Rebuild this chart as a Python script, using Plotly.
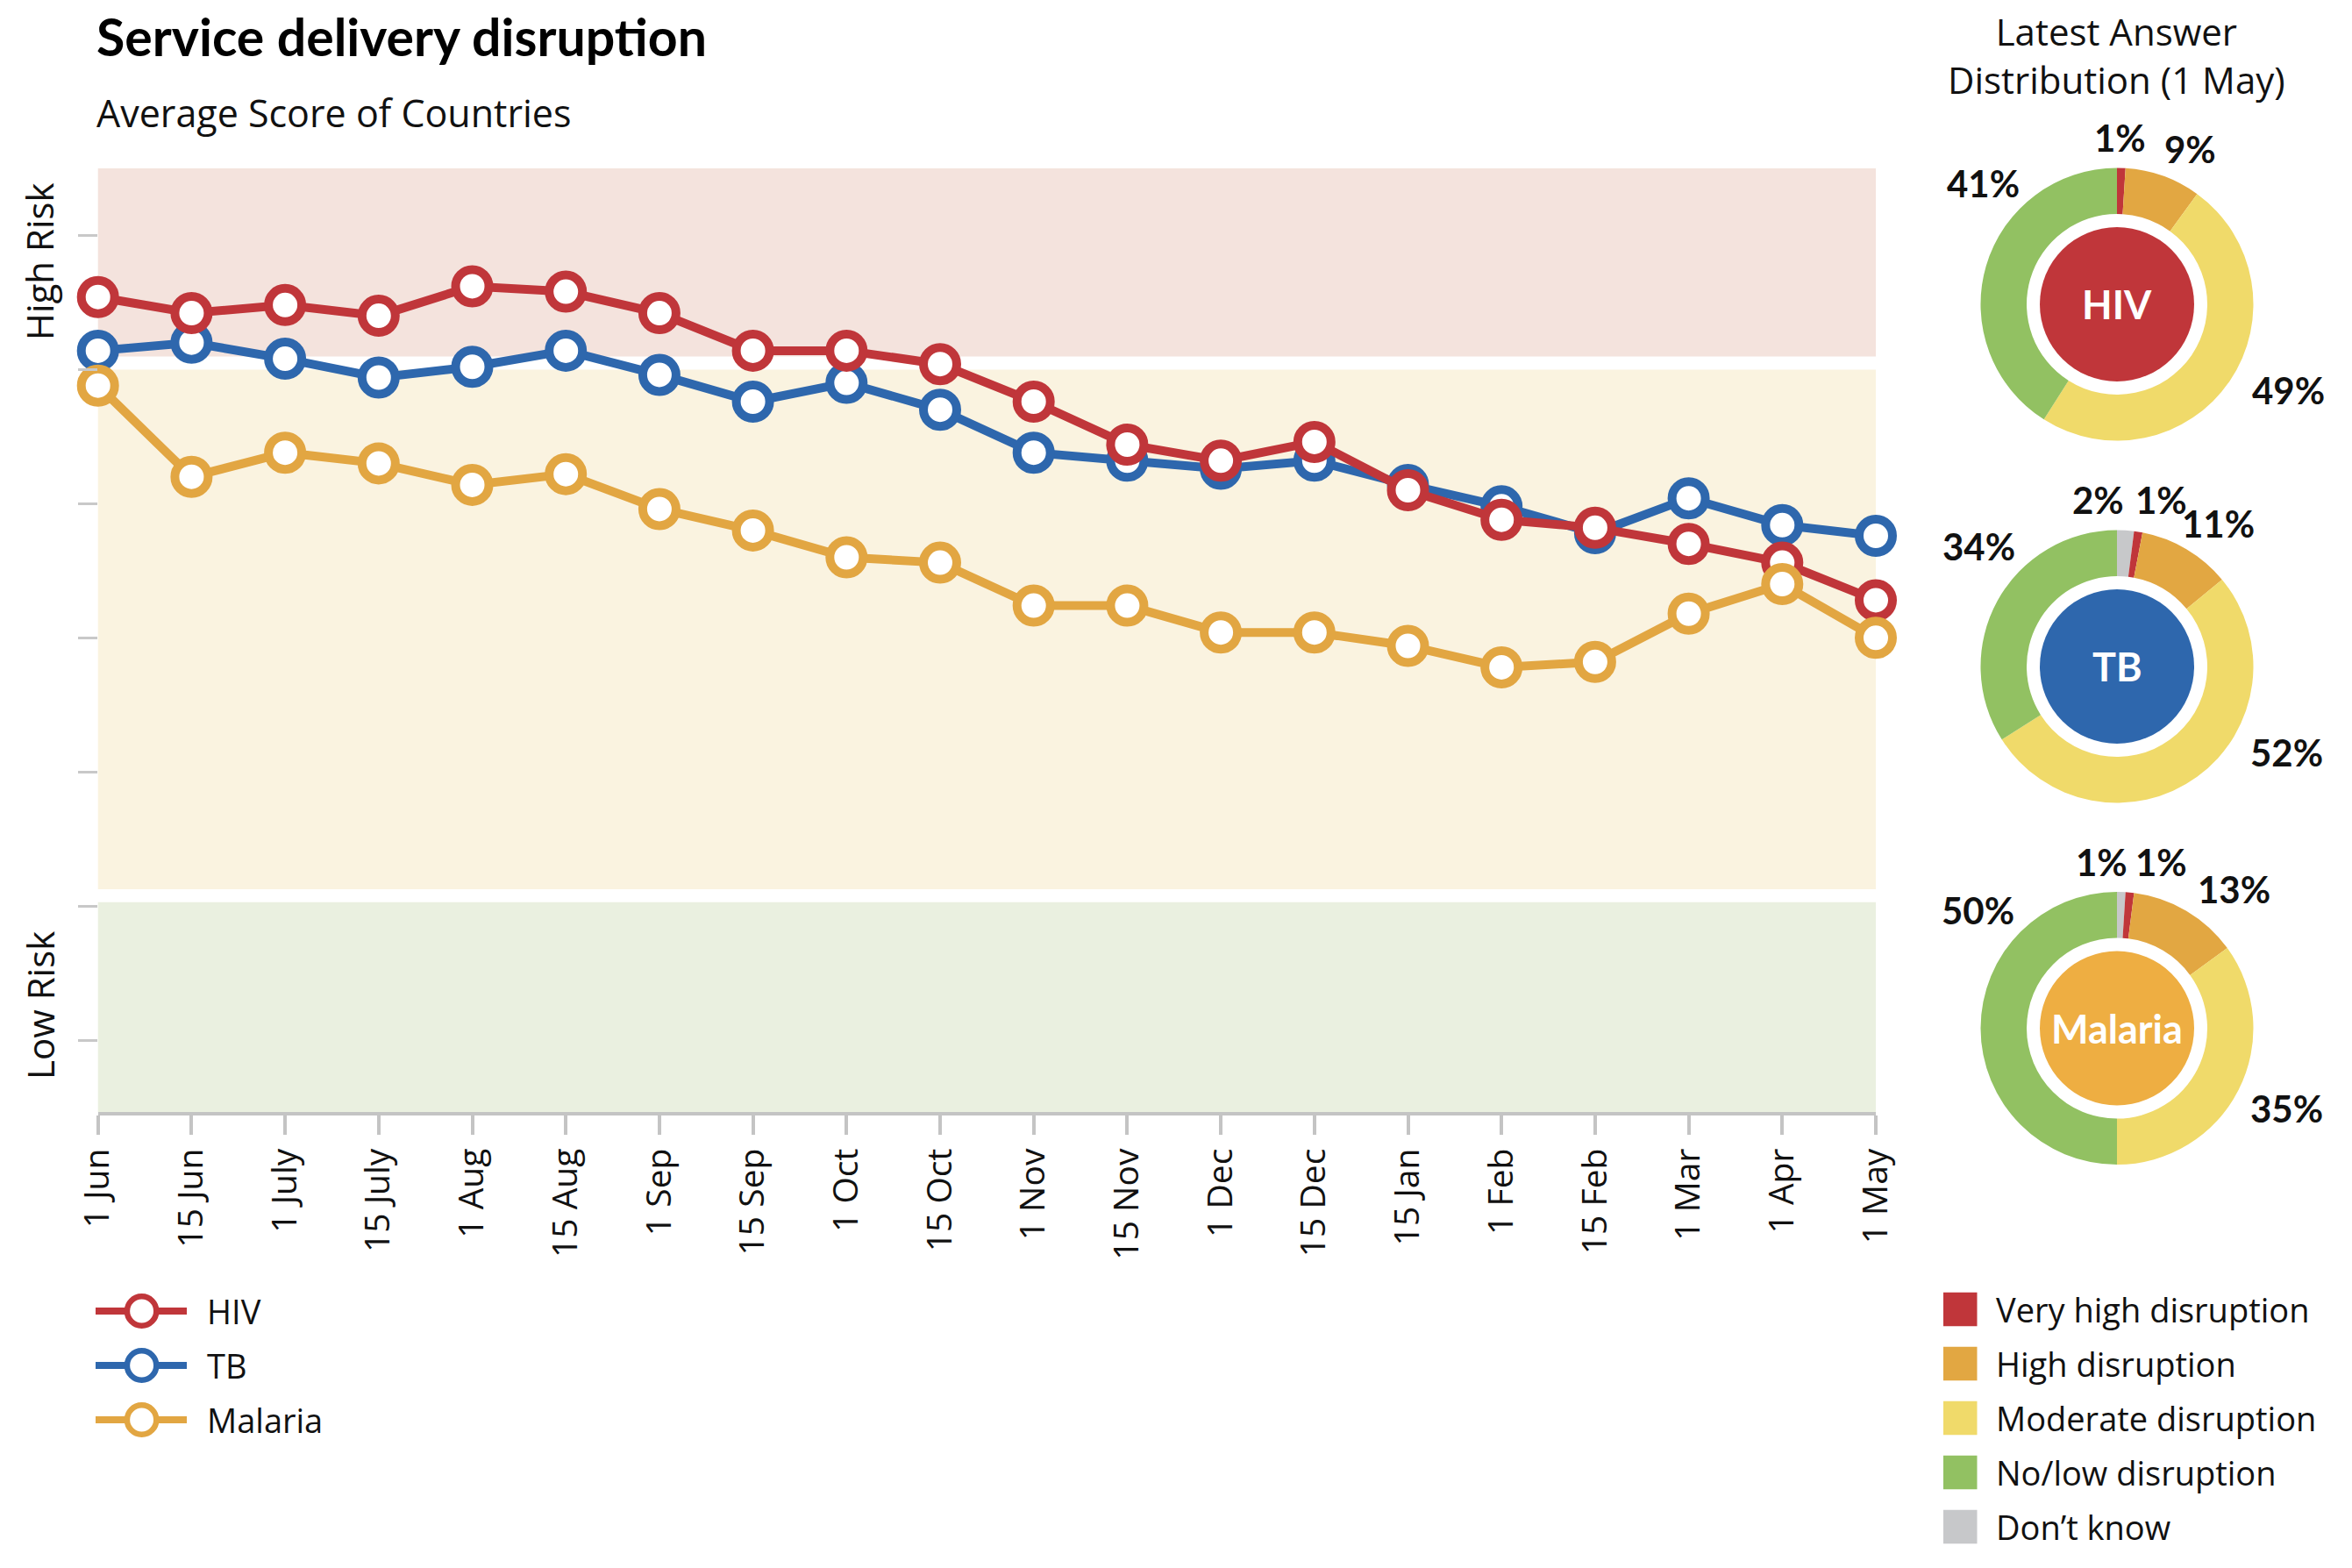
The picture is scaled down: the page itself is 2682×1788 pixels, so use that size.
import plotly.graph_objects as go

W, H = 2682, 1788
FONT = "Open Sans"
BFONT = "Lato"

# ---------------- data ----------------
dates = ["1 Jun", "15 Jun", "1 July", "15 July", "1 Aug", "15 Aug", "1 Sep", "15 Sep",
         "1 Oct", "15 Oct", "1 Nov", "15 Nov", "1 Dec", "15 Dec", "15 Jan", "1 Feb",
         "15 Feb", "1 Mar", "1 Apr", "1 May"]
hiv = [3.77, 3.71, 3.74, 3.70, 3.81, 3.79, 3.71, 3.57, 3.57, 3.52,
       3.38, 3.22, 3.16, 3.23, 3.05, 2.94, 2.91, 2.85, 2.78, 2.64]
tb = [3.57, 3.60, 3.54, 3.47, 3.51, 3.57, 3.48, 3.38, 3.45, 3.35,
      3.19, 3.16, 3.13, 3.16, 3.07, 2.99, 2.89, 3.02, 2.92, 2.88]
malaria = [3.44, 3.10, 3.19, 3.15, 3.07, 3.11, 2.98, 2.90, 2.80, 2.78,
           2.62, 2.62, 2.52, 2.52, 2.47, 2.39, 2.41, 2.59, 2.70, 2.50]

series_names = ["HIV", "TB", "Malaria"]
series_colors = ["#c0363a", "#2e67ad", "#e2a642"]
center_colors = ["#c0363a", "#2e67ad", "#eeae42"]

dist_categories = ["Very high disruption", "High disruption", "Moderate disruption",
                   "No/low disruption", "Don\u2019t know"]
dist_colors = ["#c0363a", "#e2a742", "#f0da6a", "#92c162", "#c7c8ca"]
hiv_dist = [1, 9, 49, 41, 0]
tb_dist = [1, 11, 52, 34, 2]
malaria_dist = [1, 13, 35, 50, 1]

# ---------------- helpers ----------------
def fx(px):
    return px / W

def fy(py):
    return 1 - py / H

fig = go.Figure()

# line traces (draw order TB, HIV, Malaria)
series_vals = {"HIV": hiv, "TB": tb, "Malaria": malaria}
col = dict(zip(series_names, series_colors))
for name in ["TB", "HIV", "Malaria"]:
    fig.add_trace(go.Scatter(
        x=dates, y=series_vals[name], name=name, mode="lines+markers",
        line=dict(color=col[name], width=10),
        marker=dict(size=38, color="white", line=dict(color=col[name], width=10)),
        cliponaxis=False, showlegend=False, hoverinfo="x+y+name"))

# donuts
donut_centers = [(2414, 347), (2414, 760), (2414, 1172.5)]
R_OUT, R_IN, R_CENTER = 155.5, 103, 88
dists = [hiv_dist, tb_dist, malaria_dist]
order = [4, 0, 1, 2, 3]  # clockwise from 12 o'clock: Don't know, Very high, High, Moderate, No/low
for (cx, cy), d, nm in zip(donut_centers, dists, series_names):
    fig.add_trace(go.Pie(
        values=[d[i] for i in order], labels=[dist_categories[i] for i in order],
        marker=dict(colors=[dist_colors[i] for i in order], line=dict(width=0)),
        hole=R_IN / R_OUT, sort=False, direction="clockwise", rotation=0,
        textinfo="none", showlegend=False, name=nm, automargin=False,
        domain=dict(x=[fx(cx - R_OUT), fx(cx + R_OUT)], y=[fy(cy + R_OUT), fy(cy - R_OUT)])))

shapes = []
annotations = []

# background bands (y data units)
bands = [(3.548, 4.25, "#f4e3dd"), (1.563, 3.499, "#faf3e0"), (0.733, 1.515, "#eaf0e0")]
for y0, y1, c in bands:
    shapes.append(dict(type="rect", xref="x domain", yref="y", x0=0, x1=1, y0=y0, y1=y1,
                       fillcolor=c, line=dict(width=0), layer="below"))

# donut centre discs and labels
label_offsets = [
    {0: (3, -190), 1: (83, -177), 2: (195, 98), 3: (-153, -138)},
    {4: (-22, -190), 0: (50, -190), 1: (115, -163), 2: (193, 98), 3: (-158, -137)},
    {4: (-18, -190), 0: (50, -190), 1: (133, -159), 2: (193, 91), 3: (-159, -135)},
]
for (cx, cy), d, nm, cc, offs in zip(donut_centers, dists, series_names, center_colors, label_offsets):
    shapes.append(dict(type="circle", xref="paper", yref="paper", xsizemode="pixel", ysizemode="pixel",
                       xanchor=fx(cx), yanchor=fy(cy), x0=-R_CENTER, x1=R_CENTER, y0=-R_CENTER, y1=R_CENTER,
                       fillcolor=cc, line=dict(width=0)))
    annotations.append(dict(x=fx(cx), y=fy(cy), xref="paper", yref="paper", text=f"<b>{nm}</b>",
                            showarrow=False, font=dict(family=BFONT, size=45, color="white"),
                            xanchor="center", yanchor="middle"))
    for i, v in enumerate(d):
        if v <= 0 or i not in offs:
            continue
        dx, dy = offs[i]
        annotations.append(dict(x=fx(cx + dx), y=fy(cy + dy), xref="paper", yref="paper",
                                text=f"<b>{v}%</b>", showarrow=False,
                                font=dict(family=BFONT, size=42, color="#111111"),
                                xanchor="center", yanchor="middle"))

# donut header
annotations.append(dict(x=fx(2413), y=fy(63), xref="paper", yref="paper",
                        text="Latest Answer<br>Distribution (1 May)", showarrow=False,
                        font=dict(family=FONT, size=42, color="#111111"), align="center",
                        xanchor="center", yanchor="middle"))

# title and subtitle
annotations.append(dict(x=fx(108), y=fy(41), xref="paper", yref="paper",
                        text="<b>Service delivery disruption</b>", showarrow=False,
                        font=dict(family=BFONT, size=59, color="#000000"),
                        xanchor="left", yanchor="middle"))
annotations.append(dict(x=fx(108), y=fy(129), xref="paper", yref="paper",
                        text="Average Score of Countries", showarrow=False,
                        font=dict(family=FONT, size=43, color="#111111"),
                        xanchor="left", yanchor="middle"))

# risk labels
for txt, ycen in [("High Risk", 298), ("Low Risk", 1147)]:
    annotations.append(dict(x=fx(45), y=fy(ycen), xref="paper", yref="paper", text=txt,
                            textangle=-90, showarrow=False,
                            font=dict(family=FONT, size=42, color="#111111"),
                            xanchor="center", yanchor="middle"))

# left legend (lines)
leg_rows = [1495, 1557, 1619]
for nm, c, yy in zip(series_names, series_colors, leg_rows):
    shapes.append(dict(type="line", xref="paper", yref="paper", x0=fx(109), x1=fx(213),
                       y0=fy(yy), y1=fy(yy), line=dict(color=c, width=8)))
    shapes.append(dict(type="circle", xref="paper", yref="paper", xsizemode="pixel", ysizemode="pixel",
                       xanchor=fx(161.6), yanchor=fy(yy), x0=-16.7, x1=16.7, y0=-16.7, y1=16.7,
                       fillcolor="white", line=dict(color=c, width=6.5)))
    annotations.append(dict(x=fx(234), y=fy(yy), xref="paper", yref="paper", text=nm,
                            showarrow=False, font=dict(family=FONT, size=38, color="#111111"),
                            xanchor="left", yanchor="middle"))

# right legend (distribution categories)
sq_rows = [1493, 1555, 1617, 1679, 1741]
for cat, c, yy in zip(dist_categories, dist_colors, sq_rows):
    shapes.append(dict(type="rect", xref="paper", yref="paper", x0=fx(2216), x1=fx(2254.5),
                       y0=fy(yy + 19.3), y1=fy(yy - 19.3), fillcolor=c, line=dict(width=0)))
    annotations.append(dict(x=fx(2274), y=fy(yy), xref="paper", yref="paper", text=cat,
                            showarrow=False, font=dict(family=FONT, size=38, color="#111111"),
                            xanchor="left", yanchor="middle"))

fig.update_layout(
    width=W, height=H, margin=dict(l=0, r=0, t=0, b=0, autoexpand=False),
    paper_bgcolor="white", plot_bgcolor="white", showlegend=False,
    font=dict(family=FONT, color="#111111"),
    shapes=shapes, annotations=annotations,
    xaxis=dict(type="category", categoryorder="array", categoryarray=dates, range=[0, 19],
               domain=[fx(111.7), fx(2139)], showgrid=False, zeroline=False, automargin=False,
               showline=True, linecolor="#c4c4c4", linewidth=4,
               ticks="outside", ticklen=22, tickwidth=4, tickcolor="#c4c4c4",
               tickangle=-90, tickfont=dict(family=FONT, size=39, color="#111111")),
    yaxis=dict(range=[0.733, 4.25], domain=[fy(1268), fy(191.8)], automargin=False,
               tickvals=[1, 1.5, 2, 2.5, 3, 3.5, 4], showticklabels=False,
               ticks="outside", ticklen=22, tickwidth=3, tickcolor="#c8c8c8",
               showgrid=False, zeroline=False, showline=False),
)

fig.write_html("out.html")
